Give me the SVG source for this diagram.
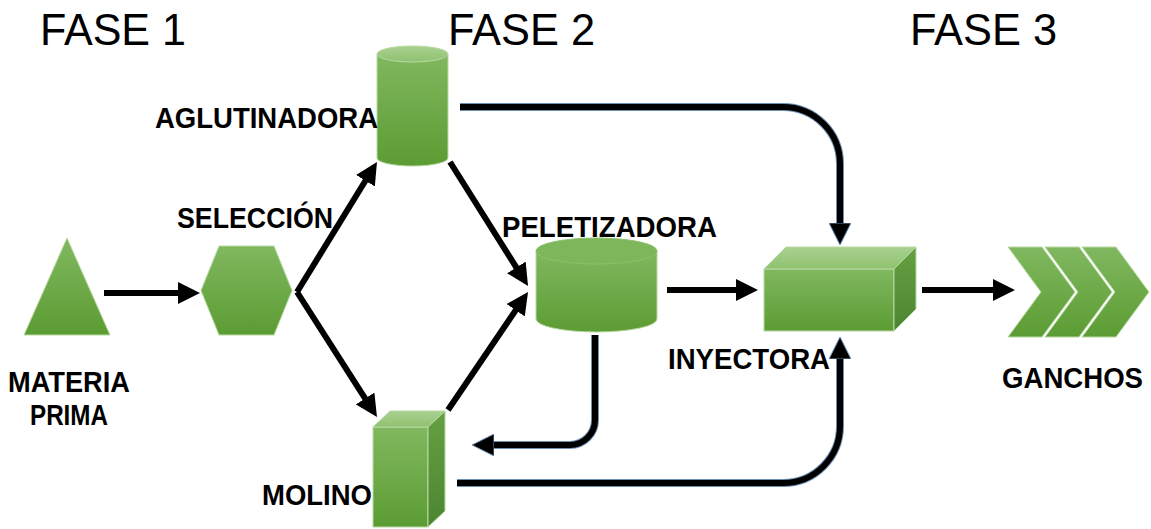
<svg xmlns="http://www.w3.org/2000/svg" width="1151" height="529" viewBox="0 0 1151 529">
<style>
.phase{font-family:"Liberation Sans",Arial,sans-serif;font-size:44px;fill:#000}
.lbl{font-family:"Liberation Sans",Arial,sans-serif;font-size:29px;font-weight:bold;fill:#000}
.ln{fill:none;stroke:#000;stroke-width:6}
.cv{fill:none;stroke:#000;stroke-width:6}
.cvo{fill:none;stroke:#6f8fb3;stroke-width:8}
.g{fill:url(#gr);stroke:#b9d9a4;stroke-width:1}
</style>
<defs>
<linearGradient id="gr" x1="0" y1="0" x2="0" y2="1">
<stop offset="0" stop-color="#80b85f"/>
<stop offset="1" stop-color="#5c9c33"/>
</linearGradient>
<linearGradient id="grTop" x1="0" y1="0" x2="0" y2="1">
<stop offset="0" stop-color="#a9d190"/>
<stop offset="1" stop-color="#8fc170"/>
</linearGradient>
<linearGradient id="grSide" x1="0" y1="0" x2="0" y2="1">
<stop offset="0" stop-color="#66a043"/>
<stop offset="1" stop-color="#4c8530"/>
</linearGradient>
<marker id="ah" viewBox="0 0 22 22" markerWidth="22" markerHeight="22" refX="2" refY="11" orient="auto" markerUnits="userSpaceOnUse">
<path d="M0,0 L22,11 L0,22 Z" fill="#000"/>
</marker>
<marker id="ah2" viewBox="0 0 22 22" markerWidth="22" markerHeight="22" refX="2" refY="11" orient="auto" markerUnits="userSpaceOnUse">
<path d="M0,0 L22,11 L0,22 Z" fill="#000" stroke="#6f8fb3" stroke-width="1"/>
</marker>
</defs>
<rect width="1151" height="529" fill="#fff"/>

<g id="phases">
<text class="phase" x="40" y="45" textLength="146" lengthAdjust="spacingAndGlyphs">FASE 1</text>
<text class="phase" x="448" y="45" textLength="147" lengthAdjust="spacingAndGlyphs">FASE 2</text>
<text class="phase" x="910" y="45" textLength="147" lengthAdjust="spacingAndGlyphs">FASE 3</text>
</g>

<g id="connectors">
<line class="ln" x1="104" y1="293" x2="180" y2="293" marker-end="url(#ah)"/>
<line class="ln" x1="297" y1="292" x2="366.5" y2="179" marker-end="url(#ah)"/>
<line class="ln" x1="297" y1="292" x2="366.2" y2="400.2" marker-end="url(#ah)"/>
<line class="ln" x1="450" y1="162" x2="517.4" y2="269.1" marker-end="url(#ah)"/>
<line class="ln" x1="448" y1="410" x2="516.8" y2="308.6" marker-end="url(#ah)"/>
<line class="ln" x1="667" y1="290" x2="738" y2="290" marker-end="url(#ah)"/>
<line class="ln" x1="922" y1="290" x2="995" y2="290" marker-end="url(#ah)"/>
<path class="cvo" d="M460,107 H783 A57,57 0 0 1 840,164 V225"/>
<path class="cv" d="M460,107 H783 A57,57 0 0 1 840,164 V225" marker-end="url(#ah2)"/>
<path class="cvo" d="M595,335 V420 A25,25 0 0 1 570,445 H492"/>
<path class="cv" d="M595,335 V420 A25,25 0 0 1 570,445 H492" marker-end="url(#ah2)"/>
<path class="cvo" d="M457,483 H783 A57,57 0 0 0 840,426 V357"/>
<path class="cv" d="M457,483 H783 A57,57 0 0 0 840,426 V357" marker-end="url(#ah2)"/>
</g>

<g id="materia-prima">
<polygon class="g" points="67,238 110,335 24,335"/>
<text class="lbl" x="69" y="392" text-anchor="middle" textLength="122" lengthAdjust="spacingAndGlyphs">MATERIA</text>
<text class="lbl" x="69" y="425" text-anchor="middle" textLength="78" lengthAdjust="spacingAndGlyphs">PRIMA</text>
</g>

<g id="seleccion">
<polygon class="g" points="201,290.5 219,246 274,246 292,290.5 274,335 219,335"/>
<text class="lbl" x="177" y="228" textLength="156" lengthAdjust="spacingAndGlyphs">SELECCIÓN</text>
</g>

<g id="aglutinadora">
<path class="g" d="M377,54 V158 A35.5,8 0 0 0 448,158 V54 Z"/>
<ellipse cx="412.5" cy="54" rx="35.5" ry="8" fill="url(#grTop)" stroke="#b9d9a4" stroke-width="1"/>
<text class="lbl" x="155" y="128" textLength="223" lengthAdjust="spacingAndGlyphs">AGLUTINADORA</text>
</g>

<g id="peletizadora">
<path class="g" d="M536,251 V319 A60.5,13 0 0 0 657,319 V251 Z"/>
<ellipse cx="596.5" cy="251" rx="60.5" ry="13" fill="#7db65b" stroke="#8cc06c" stroke-width="1"/>
<text class="lbl" x="502" y="237" textLength="215" lengthAdjust="spacingAndGlyphs">PELETIZADORA</text>
</g>

<g id="inyectora">
<rect class="g" x="764" y="269" width="130" height="62"/>
<polygon points="764,269 786,247 916,247 894,269" fill="url(#grTop)" stroke="#b9d9a4" stroke-width="1"/>
<polygon points="894,269 916,247 916,309 894,331" fill="url(#grSide)" stroke="#b9d9a4" stroke-width="1"/>
<text class="lbl" x="668" y="369" textLength="162" lengthAdjust="spacingAndGlyphs">INYECTORA</text>
</g>

<g id="molino">
<rect class="g" x="373" y="427" width="55" height="100"/>
<polygon points="373,427 390,411 445,411 428,427" fill="url(#grTop)" stroke="#b9d9a4" stroke-width="1"/>
<polygon points="428,427 445,411 445,511 428,527" fill="url(#grSide)" stroke="#b9d9a4" stroke-width="1"/>
<text class="lbl" x="262" y="505" textLength="110" lengthAdjust="spacingAndGlyphs">MOLINO</text>
</g>

<g id="ganchos">
<polygon class="g" points="1008,247 1042,247 1075,292 1042,337 1008,337 1041,292"/>
<polygon class="g" points="1045,247 1079,247 1112,292 1079,337 1045,337 1078,292"/>
<polygon class="g" points="1082,247 1116,247 1149,292 1116,337 1082,337 1115,292"/>
<text class="lbl" x="1002" y="388" textLength="141" lengthAdjust="spacingAndGlyphs">GANCHOS</text>
</g>
</svg>
